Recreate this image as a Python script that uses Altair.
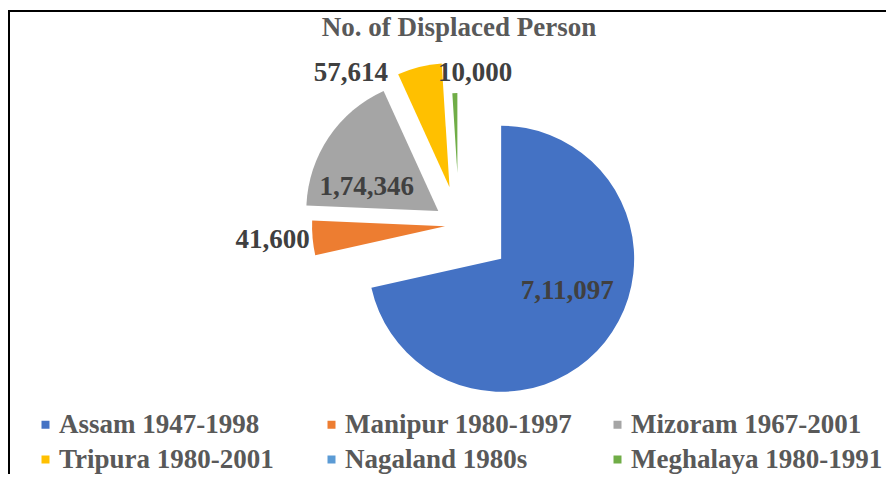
import altair as alt
import pandas as pd

# ---- data ----
states = ["Assam 1947-1998", "Manipur 1980-1997", "Mizoram 1967-2001",
          "Tripura 1980-2001", "Nagaland 1980s", "Meghalaya 1980-1991"]
values = [711097, 41600, 174346, 57614, 0, 10000]

# ---- styles ----
colors = ["#4472C4", "#ED7D31", "#A5A5A5", "#FFC000", "#5B9BD5", "#70AD47"]
explode = [54, 14, 25, 39, 0, 52]          # px offset of each slice
radius = [133, 133, 132, 124, 0, 80]       # drawn radius of each slice
label_r = [72, 173, 73, 135, 0, 99]        # label distance from slice vertex
label_dx = [10, 0, -11, -66, 0, 21]
label_dy = [-13, -2, 17, 17, 0, -1]

W, H = 878, 466
CX, CY = 451, 217
FONT = "Liberation Serif"


def indian(n):
    s = str(n)
    if len(s) <= 3:
        return s
    last3, rest = s[-3:], s[:-3]
    groups = []
    while len(rest) > 2:
        groups.insert(0, rest[-2:])
        rest = rest[:-2]
    if rest:
        groups.insert(0, rest)
    return ",".join(groups + [last3])


df = pd.DataFrame({
    "order": list(range(len(states))),
    "state": states,
    "value": values,
    "label": [indian(v) for v in values],
    "explode": explode,
    "rad": radius,
    "lr": label_r,
    "ldx": label_dx,
    "ldy": label_dy,
})

base = (
    alt.Chart(df)
    .transform_window(cum="sum(value)", frame=[None, 0], sort=[{"field": "order"}])
    .transform_joinaggregate(total="sum(value)")
    .transform_calculate(
        t1="2*PI*(datum.cum-datum.value)/datum.total",
        t2="2*PI*datum.cum/datum.total",
    )
    .transform_calculate(mid="(datum.t1+datum.t2)/2")
    .transform_calculate(
        cx=f"{CX}+datum.explode*sin(datum.mid)",
        cy=f"{CY}-datum.explode*cos(datum.mid)",
    )
    .transform_calculate(
        lx="datum.cx+datum.lr*sin(datum.mid)+datum.ldx",
        ly="datum.cy-datum.lr*cos(datum.mid)+datum.ldy",
    )
)

arcs = base.mark_arc().encode(
    theta=alt.Theta("t1:Q", scale=None),
    theta2="t2:Q",
    radius=alt.Radius("rad:Q", scale=None),
    x=alt.X("cx:Q", scale=None),
    y=alt.Y("cy:Q", scale=None),
    color=alt.Color(
        "state:N",
        scale=alt.Scale(domain=states, range=colors),
        legend=alt.Legend(
            title=None, orient="none", legendX=24, legendY=403,
            direction="horizontal", columns=3, gridAlign="all",
            symbolType="square", symbolSize=64, symbolStrokeWidth=0,
            labelFont=FONT, labelFontWeight="bold", labelFontSize=27,
            labelColor="#595959", labelLimit=400, labelOffset=0,
            columnPadding=7, rowPadding=7, padding=0,
        ),
    ),
    order=alt.Order("order:Q"),
)

labels = base.transform_filter("datum.value > 0").mark_text(
    font=FONT, fontWeight="bold", fontSize=27, color="#404040",
    align="center", baseline="middle",
).encode(
    x=alt.X("lx:Q", scale=None),
    y=alt.Y("ly:Q", scale=None),
    text="label:N",
)

one = pd.DataFrame({"a": [0]})
top_rule = alt.Chart(one).mark_rule(color="black", strokeWidth=2).encode(
    x=alt.value(0), x2=alt.value(W), y=alt.value(3)
)
left_rule = alt.Chart(one).mark_rule(color="black", strokeWidth=2).encode(
    x=alt.value(1), y=alt.value(3), y2=alt.value(H)
)

chart = (
    alt.layer(arcs, labels, top_rule, left_rule)
    .properties(
        width=W, height=H,
        autosize=alt.AutoSizeParams(type="none"),
        padding=0,
        background="white",
        title=alt.TitleParams(
            text="No. of Displaced Person", font=FONT, fontWeight="bold",
            fontSize=27, color="#595959", anchor="middle",
            baseline="alphabetic", dy=59, dx=12,
        ),
    )
    .configure_view(stroke=None)
)

chart.save("out.html", embed_options={"renderer": "svg", "actions": False})
